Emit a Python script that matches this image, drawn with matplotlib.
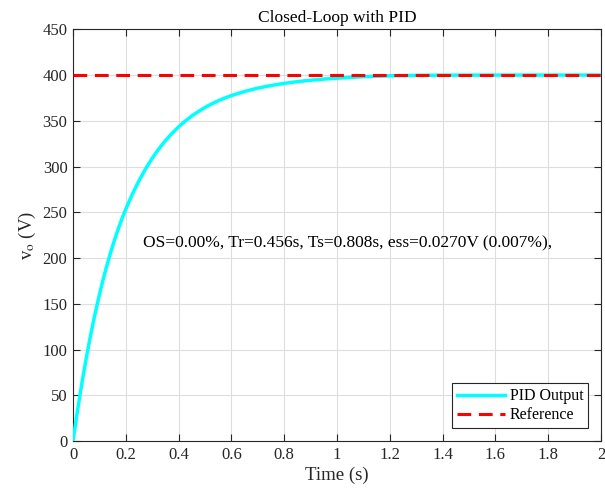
import matplotlib
matplotlib.use("Agg")
import matplotlib.pyplot as plt

# Data
t = [0, 0.0125, 0.025, 0.0375, 0.05, 0.0625, 0.075, 0.0875, 0.1, 0.1125, 0.125,
     0.1375, 0.15, 0.1625, 0.175, 0.1875, 0.2, 0.225, 0.25, 0.275, 0.3, 0.325,
     0.35, 0.375, 0.4, 0.425, 0.45, 0.475, 0.5, 0.525, 0.55, 0.575, 0.6, 0.65,
     0.7, 0.75, 0.8, 0.85, 0.9, 0.95, 1.0, 1.1, 1.2, 1.3, 1.4, 1.6, 1.8, 2.0]
vo = [0, 24.8, 48, 69.8, 90.3, 109.5, 127.5, 144.3, 160, 174.7, 188.4,
      201.2, 213.2, 224.4, 234.8, 244.5, 253.5, 270, 284.6, 297.6, 309.1, 319.3,
      328.3, 336.3, 343.4, 349.7, 355.3, 360.2, 364.6, 368.5, 371.9, 374.9, 377.6, 382.1,
      385.7, 388.6, 390.9, 392.8, 394.3, 395.6, 396.6, 398.2, 399.2, 399.7, 399.85, 399.95, 399.97, 399.97]
ref_t = [0, 2]
ref_v = [400, 400]
annotation = "OS=0.00%, Tr=0.456s, Ts=0.808s, ess=0.0270V (0.007%),"

plt.rcParams['font.family'] = ['Liberation Serif', 'DejaVu Serif']
plt.rcParams['mathtext.fontset'] = 'stix'

fig = plt.figure(figsize=(6.05, 4.96), dpi=100)
ax = fig.add_axes([0.1207, 0.1109, 0.8727, 0.8300])

ax.plot(t, vo, color='#00FFFF', lw=2.5, label='PID Output', zorder=3,
        solid_joinstyle='round')
ax.plot(ref_t, ref_v, color='#FF0000', lw=2.2, ls=(0, (4.5, 2.5)), label='Reference', zorder=4)

ax.set_xlim(0, 2)
ax.set_ylim(0, 450)
ax.set_xticks([0, 0.2, 0.4, 0.6, 0.8, 1, 1.2, 1.4, 1.6, 1.8, 2])
ax.set_xticklabels(['0', '0.2', '0.4', '0.6', '0.8', '1', '1.2', '1.4', '1.6', '1.8', '2'])
ax.set_yticks(range(0, 451, 50))
ax.grid(True, color='#DEDEDE', lw=0.8)
ax.set_axisbelow(True)
ax.tick_params(direction='in', top=True, right=True, length=5, width=0.8,
               colors='#262626', labelsize=12, labelcolor='#262626', pad=4)
for s in ax.spines.values():
    s.set_color('#262626')
    s.set_linewidth(0.8)

ax.set_xlabel('Time (s)', fontsize=13.5, color='#262626', labelpad=3)
ax.set_ylabel(r'v$_{\rm o}$ (V)', fontsize=13.5, color='#262626', labelpad=3)
ax.set_title('Closed-Loop with PID', fontsize=12.5, color='black', pad=5)

ax.text(0.265, 216, annotation, fontsize=12.5, ha='left', va='center', color='black')

leg = ax.legend(loc='lower right', fontsize=11.5, frameon=True, fancybox=False,
                edgecolor='#262626', framealpha=1, borderpad=0.3, labelspacing=0.2,
                handlelength=3.0, handletextpad=0.3, borderaxespad=0.8)
leg.get_frame().set_linewidth(0.8)

fig.savefig('out.png', dpi=100)
